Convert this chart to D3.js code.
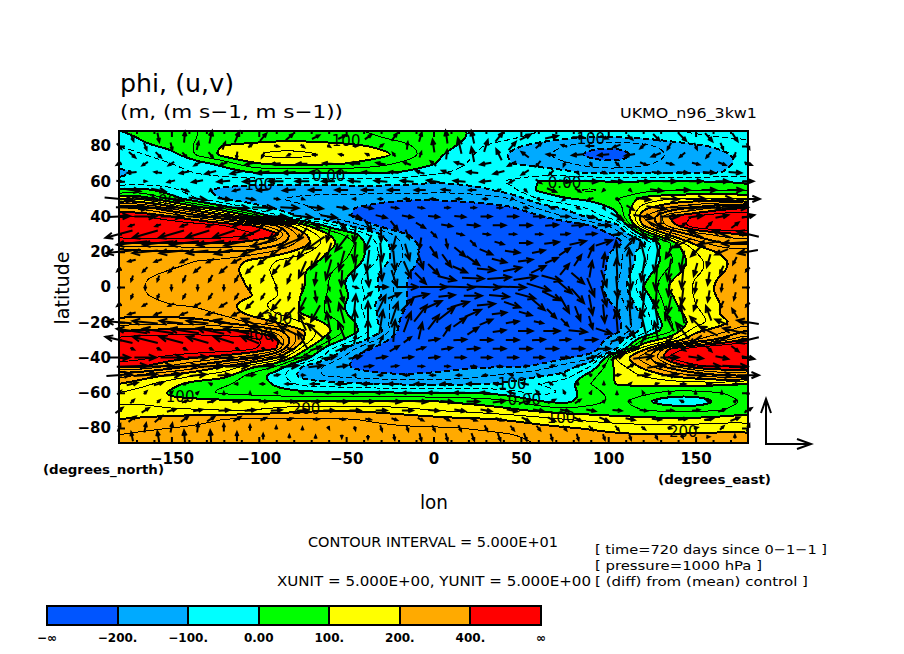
<!DOCTYPE html>
<html>
<head>
<meta charset="utf-8">
<script src="https://cdnjs.cloudflare.com/ajax/libs/d3/7.8.5/d3.min.js"></script>
<style>
html, body { margin: 0; padding: 0; background: #fff; }
svg { display: block; }
text { font-family: "DejaVu Sans", sans-serif; fill: #000; }
.axis path { display: none; }
.axis line { stroke: #000; stroke-width: 2px; }
.axis text { font-size: 15px; font-weight: bold; }
</style>
</head>
<body>
<svg id="chart" width="904" height="654"></svg>
<script>
// grid of the geopotential field
const lons = [-180,-165,-150,-135,-120,-105,-90,-75,-60,-45,-30,-15,0,15,30,45,60,75,90,105,120,135,150,165,180];
const lats = [90,85,80,75,70,65,60,55,50,45,40,35,30,25,20,15,10,5,0,-5,-10,-15,-20,-25,-30,-35,-40,-45,-50,-55,-60,-65,-70,-75,-80,-85,-90];
const phiRows = [
  [5,25,40,50,55,60,60,60,55,50,40,30,20,5,-15,-30,-40,-50,-55,-55,-50,-45,-35,-30,-25],
  [-30,15,35,50,60,70,75,75,70,60,50,40,25,8,-20,-40,-70,-90,-100,-100,-90,-75,-60,-50,-40],
  [-50,-10,15,60,105,115,130,130,120,110,90,55,30,-5,-55,-90,-120,-150,-190,-195,-170,-130,-110,-90,-70],
  [-70,-50,-20,60,120,145,170,165,145,130,115,85,15,-30,-70,-110,-140,-180,-215,-225,-190,-150,-130,-110,-85],
  [-85,-80,-50,-20,15,90,115,115,110,95,70,30,5,-40,-75,-100,-115,-140,-180,-195,-165,-130,-120,-110,-90],
  [-110,-95,-70,-45,-20,0,8,8,10,8,5,-5,-35,-60,-85,-80,-75,-85,-110,-115,-110,-105,-105,-100,-75],
  [-90,-90,-85,-80,-80,-80,-75,-75,-75,-75,-80,-85,-95,-85,-65,-40,0,10,5,-5,0,0,0,-5,-10],
  [20,15,-30,-95,-110,-125,-130,-135,-130,-125,-120,-120,-130,-130,-110,-60,10,40,60,25,40,40,45,50,50],
  [170,130,30,-50,-105,-130,-150,-160,-170,-180,-190,-195,-195,-190,-180,-150,-50,-5,10,50,120,150,160,160,150],
  [360,320,230,120,30,-60,-110,-140,-170,-200,-215,-225,-230,-225,-220,-205,-140,-90,-40,10,180,260,310,370,400],
  [460,450,400,330,240,110,-30,-110,-160,-210,-235,-245,-250,-250,-245,-240,-210,-150,-80,-10,250,400,460,500,520],
  [520,510,500,480,450,410,300,130,-30,-130,-220,-265,-280,-285,-280,-275,-270,-240,-200,-120,210,380,510,540,560],
  [500,510,510,510,490,460,420,220,100,15,-100,-200,-280,-290,-290,-290,-290,-280,-260,-180,30,220,330,370,420],
  [400,400,400,395,400,390,330,240,130,50,-70,-170,-240,-270,-290,-300,-300,-300,-280,-230,-120,40,220,300,320],
  [280,285,290,300,300,290,240,170,100,40,-60,-170,-240,-270,-280,-290,-290,-290,-270,-170,-60,50,150,210,230],
  [265,265,260,250,240,190,150,120,90,30,-60,-170,-240,-265,-280,-285,-280,-270,-250,-170,-70,30,130,190,230],
  [260,255,250,245,230,170,140,105,60,0,-100,-190,-240,-260,-270,-270,-265,-260,-240,-170,-50,60,130,190,240],
  [255,250,245,240,225,190,145,105,50,-30,-110,-200,-245,-265,-275,-275,-270,-260,-240,-160,-20,90,150,210,240],
  [250,250,245,240,230,195,150,105,50,-30,-110,-200,-250,-270,-280,-280,-270,-260,-240,-150,0,105,160,220,240],
  [250,250,245,240,225,205,155,95,45,-10,-100,-200,-245,-265,-275,-275,-270,-260,-240,-170,-30,90,155,215,240],
  [260,255,250,245,215,170,130,95,40,-30,-130,-200,-240,-260,-270,-270,-265,-260,-240,-190,-60,80,150,200,240],
  [280,280,275,265,240,185,150,95,40,-20,-110,-220,-250,-270,-280,-285,-280,-270,-250,-210,-80,70,130,210,240],
  [330,330,335,330,290,240,200,150,90,0,-120,-240,-270,-285,-290,-295,-290,-285,-270,-220,-100,40,120,180,240],
  [400,410,420,420,420,400,330,210,110,20,-90,-250,-280,-295,-300,-300,-295,-290,-270,-220,-90,30,190,230,310],
  [480,490,490,490,480,470,430,210,60,-50,-170,-270,-290,-300,-300,-300,-295,-280,-260,-130,60,130,250,320,420],
  [500,500,500,495,490,470,400,130,-40,-150,-230,-270,-290,-295,-295,-290,-280,-270,-250,-100,180,400,500,530,560],
  [480,460,430,400,370,320,210,40,-80,-210,-250,-270,-280,-275,-270,-265,-240,-210,-170,170,280,460,520,540,540],
  [430,400,340,280,200,120,50,-100,-170,-210,-240,-235,-225,-210,-205,-210,-190,-130,-50,120,220,330,440,460,470],
  [280,230,190,150,130,30,-30,-130,-160,-180,-190,-195,-190,-180,-160,-130,-110,-90,30,110,160,210,260,300,320],
  [200,160,115,70,55,40,-10,-70,-80,-90,-100,-110,-110,-110,-100,-90,-50,-20,50,105,110,120,120,110,100],
  [150,130,90,60,40,30,15,10,10,10,5,0,0,0,-5,-30,-70,-50,40,60,70,30,30,50,55],
  [145,140,110,120,115,110,110,105,105,100,105,105,105,90,80,60,5,-20,30,60,0,-40,-50,5,55],
  [170,170,160,155,150,150,170,190,195,195,185,170,150,140,125,110,90,70,70,65,50,40,40,50,80],
  [200,210,225,240,250,260,260,260,255,250,240,230,220,210,205,190,170,150,135,120,115,110,110,120,130],
  [235,245,250,255,265,275,275,270,270,265,260,255,255,250,245,240,220,205,195,180,175,175,180,185,190],
  [255,260,265,270,275,280,280,280,280,275,275,270,270,265,260,255,240,230,220,215,210,210,215,215,215],
  [265,270,270,275,280,285,285,285,285,280,280,275,275,270,265,260,250,240,235,230,225,225,225,225,225]
];

// wind in tenths of m/s, same longitudes, 85N to 85S
const vecLats = [85,80,75,70,65,60,55,50,45,40,35,30,25,20,15,10,5,0,-5,-10,-15,-20,-25,-30,-35,-40,-45,-50,-55,-60,-65,-70,-75,-80,-85];
const uRows = [
  [3,2,1,3,5,7,8,8,8,7,6,3,-2,-3,8,12,14,12,8,5,7,8,8,6,4],
  [5,3,2,2,3,4,5,4,3,5,4,1,-2,-4,4,8,6,-6,-8,-8,-6,-4,3,3,3],
  [7,6,5,5,-1,-3,-4,-5,-5,-4,-3,2,1,-3,-6,-8,-10,-12,-12,-11,-10,-6,-5,-2,0],
  [-5,-6,-6,-7,-8,-9,-10,-11,-12,-12,-10,-8,-6,-10,-12,-9,-5,-2,2,4,7,8,8,8,8],
  [-10,-8,-10,-12,-14,-14,-14,-13,-12,-11,-10,-9,-10,-12,-12,-8,-5,2,5,8,10,12,13,14,12],
  [6,2,-8,-12,-14,-15,-16,-15,-14,-13,-14,-14,-14,-13,-12,-6,6,12,15,14,14,15,15,14,12],
  [18,16,8,-2,-8,-12,-14,-14,-14,-13,-13,-12,-10,-8,-5,3,10,6,-2,2,14,15,16,17,18],
  [32,30,26,20,14,10,6,3,0,-3,-5,-6,-6,-6,-5,-2,2,-4,-6,4,16,20,22,24,26],
  [36,34,32,28,26,24,20,16,12,10,8,7,6,6,6,5,5,4,2,8,22,28,28,29,30],
  [24,24,24,22,22,24,24,22,18,14,12,12,12,12,12,12,12,10,10,14,22,20,16,14,14],
  [-6,-6,-8,-8,-8,-6,-4,10,10,8,8,10,12,14,14,14,14,14,14,14,18,6,6,8,8],
  [-30,-28,-28,-26,-24,-22,-16,-10,-4,-2,0,4,6,8,8,8,8,10,12,10,8,-10,-16,-20,-24],
  [-34,-34,-32,-30,-28,-26,-24,-20,-14,-8,-4,-2,2,6,10,14,16,18,18,12,-4,-20,-24,-28,-30],
  [-28,-28,-26,-24,-20,-18,-14,-10,-6,-2,2,5,8,12,14,16,14,12,6,-2,-6,-8,-10,-14,-22],
  [-8,-8,-8,-8,-10,-10,-10,-10,-6,-3,2,6,10,14,16,16,14,8,2,-2,-4,-4,-4,-4,-4],
  [-4,-5,-6,-7,-8,-8,-8,-8,-6,-3,2,8,12,16,20,20,16,10,3,-1,-4,-4,-4,-4,-4],
  [-2,-2,-3,-4,-4,-4,-4,-2,-1,2,6,12,20,24,26,26,22,14,6,2,-2,-2,-2,-2,-2],
  [0,0,0,0,0,0,0,0,2,6,14,24,30,32,32,30,26,16,8,2,-2,-2,-2,-1,0],
  [-2,-2,-3,-4,-4,-4,-2,2,4,8,14,18,18,20,22,22,20,14,6,2,-2,-2,-2,-2,-2],
  [-4,-5,-6,-7,-8,-8,-10,-8,-4,2,10,14,18,20,20,18,14,10,4,-1,-3,-4,-4,-4,-4],
  [-8,-8,-8,-9,-10,-12,-12,-10,-6,0,8,14,18,18,16,14,10,6,2,-2,-4,-4,-6,-6,-6],
  [-28,-28,-26,-24,-20,-18,-14,-8,-4,0,4,8,12,14,14,14,10,8,4,-2,-6,-10,-12,-14,-24],
  [-34,-34,-32,-30,-28,-26,-22,-18,-8,0,2,4,8,12,14,16,18,20,18,10,-4,-14,-20,-26,-30],
  [-30,-28,-26,-24,-22,-20,-16,-10,-2,2,4,8,12,14,14,14,14,12,14,14,6,-8,-14,-18,-24],
  [4,4,4,4,4,4,6,12,14,12,10,10,12,14,14,14,14,14,14,18,20,6,6,8,8],
  [24,24,24,22,22,22,22,20,16,14,12,12,12,12,12,12,12,10,10,14,22,20,16,14,14],
  [34,32,30,28,26,24,20,16,12,10,8,7,6,6,6,5,5,4,2,8,20,26,26,28,28],
  [28,26,22,18,14,10,6,4,0,-3,-5,-6,-6,-6,-5,-4,-2,-4,-3,6,14,18,20,22,24],
  [12,10,4,-2,-3,-5,-8,-10,-12,-12,-12,-12,-12,-12,-10,-8,-4,0,0,2,4,6,6,6,6],
  [4,3,2,1,0,0,-2,-4,-6,-8,-10,-10,-12,-12,-10,-8,-4,-2,1,0,-1,-1,0,0,0],
  [4,3,6,8,10,10,10,10,12,12,14,14,14,14,14,12,8,6,2,1,-3,-4,-4,2,3],
  [8,8,10,10,12,12,12,12,12,12,12,12,12,12,12,12,12,10,10,10,8,8,8,8,8],
  [8,8,8,8,8,6,6,6,6,6,6,6,6,8,8,8,8,8,10,10,10,10,10,10,10],
  [3,2,2,1,0,0,0,0,1,1,2,2,3,3,3,4,4,4,4,4,4,4,4,4,3],
  [-2,-2,-1,-1,0,0,0,0,0,0,1,2,2,3,3,3,2,2,2,2,2,1,1,0,-1]
];
const vRows = [
  [-8,-10,12,14,12,8,7,4,4,5,8,10,14,14,10,6,3,0,-3,-5,-7,-8,-9,-9,-8],
  [-6,-8,-8,9,8,3,-1,-3,-2,0,3,8,14,17,13,9,5,2,0,-3,-5,-7,-7,-7,-6],
  [-6,-6,-5,-6,-7,-6,-2,0,1,2,4,6,10,16,12,6,1,-1,-1,-2,-4,-5,-6,-6,-6],
  [-3,-4,-4,-4,-3,-2,-1,0,1,1,2,3,5,3,-2,-5,-6,-5,-4,-4,-3,-2,-2,-3,-3],
  [-1,1,-2,-3,-3,-2,-1,0,0,1,1,3,4,1,-3,-5,-5,-3,-2,-1,-1,-1,-1,-1,-1],
  [-1,0,-2,-2,-1,-1,0,0,0,1,1,1,2,1,-1,-3,-4,-2,-1,-1,-1,0,0,0,0],
  [-3,-3,-3,-2,-2,-1,-1,0,0,0,0,0,1,0,-2,-3,-4,-4,-2,-2,-2,0,0,0,-1],
  [-3,-3,-3,-3,-2,-2,-1,-1,0,0,0,0,0,0,0,-2,-3,-3,-2,-1,-2,-1,0,0,0],
  [-1,-1,-1,-1,-1,-1,-1,-2,-2,-2,-1,-1,0,0,0,-1,-2,-2,-3,-5,-3,-1,0,1,2],
  [1,0,0,0,0,-1,-1,-2,-3,-4,-3,-2,-1,-1,0,0,0,0,-2,-8,-4,0,2,3,3],
  [-2,-2,-3,-3,-3,-3,-3,-6,-10,-13,-10,-6,-2,-1,0,0,1,1,0,-4,-8,4,6,6,5],
  [-8,-8,-8,-8,-8,-10,-14,-14,-16,-18,-16,-10,-6,-2,-1,0,0,1,1,2,-12,-14,8,8,6],
  [-4,-4,-4,-5,-6,-8,-10,-14,-18,-18,-16,-12,-10,-6,-3,0,2,4,6,14,18,-10,-4,-2,-2],
  [-3,-3,-3,-3,-5,-7,-11,-15,-20,-22,-20,-18,-12,-10,-6,-2,3,8,14,24,24,-14,-10,-6,-4],
  [-2,-3,-4,-4,-5,-8,-12,-18,-22,-24,-22,-18,-14,-10,-4,2,6,12,16,26,-26,-22,-14,-8,-4],
  [-4,-5,-6,-6,-7,-8,-10,-18,-22,-24,-24,-18,-12,-7,-2,4,8,12,18,24,-26,-24,-14,-8,-4],
  [-6,-6,-7,-7,-7,-8,-10,-14,-18,-18,-18,-12,-5,-1,2,4,-6,-12,-18,-24,-26,-22,-14,-8,-5],
  [-5,-5,-6,-6,-6,-6,-6,-8,-6,-2,0,0,0,-1,-1,-1,-8,-14,-20,-24,-26,-20,-12,-8,-5],
  [-5,-5,-5,-6,-6,-6,-8,-12,-14,8,6,4,2,0,-2,-6,-10,-16,-22,-26,-24,-18,-12,-8,-5],
  [-3,-3,-3,-4,-5,-8,-12,-16,18,22,20,14,8,6,2,-6,-12,-18,-22,-26,-24,-20,-12,-8,-4],
  [-2,-3,-3,-3,-5,-8,-13,-18,22,26,24,18,14,8,2,-4,-10,-16,-20,26,26,22,16,10,6],
  [2,3,3,3,5,8,14,18,22,26,26,22,16,10,6,2,-2,-8,-14,24,26,20,12,6,4],
  [5,5,5,6,6,8,10,16,20,24,24,18,12,8,2,0,0,-2,-6,-12,20,18,10,6,4],
  [7,7,7,7,7,8,12,18,12,10,8,6,2,1,0,0,1,1,1,4,10,-8,-10,-8,-6],
  [-2,-2,-2,-2,-2,-2,-4,4,6,8,6,3,2,1,0,0,0,0,0,2,6,-4,-6,-6,-5],
  [0,0,0,0,0,1,1,2,3,3,2,1,1,0,0,0,0,0,2,6,3,0,-2,-3,-3],
  [1,1,1,1,1,1,2,2,2,1,1,0,0,0,0,1,2,2,3,4,3,1,0,-1,-2],
  [2,2,2,2,1,1,1,0,0,0,0,0,0,0,0,1,2,3,2,1,1,1,0,0,0],
  [3,3,2,1,0,0,0,0,0,0,0,0,0,0,0,2,3,4,3,2,1,0,0,0,0],
  [4,3,2,1,1,1,0,0,0,0,0,0,0,0,1,2,4,4,2,1,2,2,2,2,2],
  [4,3,2,2,1,0,0,0,0,0,-1,-1,-1,0,2,4,4,4,2,-1,2,2,2,2,3],
  [6,5,3,2,1,1,1,1,0,0,0,0,-1,-2,-2,-2,-2,-2,-2,-1,-1,0,1,3,5],
  [6,7,6,5,5,3,2,0,-1,-1,-2,-3,-3,-3,-3,-4,-4,-4,-4,-2,-1,1,2,4,6],
  [8,10,10,10,8,6,3,1,-2,-4,-6,-6,-6,-6,-6,-5,-5,-5,-5,-5,-3,-1,1,4,8],
  [10,12,14,14,10,6,4,2,-2,-4,-6,-8,-8,-8,-8,-8,-7,-7,-6,-6,-4,-2,0,4,8]
];

// colour bands
const fillLevels = [-200,-100,0,100,200,400];
const fillColors = ["#0055ff","#00aaff","#00ffff","#00ff00","#ffff00","#ffaa00","#ff0000"];
const barLabels = ["\u2212\u221e","\u2212200.","\u2212100.","0.00","100.","200.","400.","\u221e"];
const lineLevels = [-200,-150,-100,-50,0,50,100,150,200,250,300,350,400,450];

const xTicks = [-150,-100,-50,0,50,100,150];
const xMinor = [-170,-160,-140,-130,-120,-110,-90,-80,-70,-60,-40,-30,-20,-10,10,20,30,40,60,70,80,90,110,120,130,140,160,170];
const yTicks = [80,60,40,20,0,-20,-40,-60,-80];
const yMinor = [70,50,30,10,-10,-30,-50,-70];

// inline contour labels
const labelTexts = ["100","0.00","100","100","100","0.00","400","200","100","200","100","0.00","100","200","1"];
const labelLons  = [-50,-60,-100,-155,90,75,-100,-89,-145,-73,45,52,73,143,130];
const labelLats  = [83,63,58,49,84,59,-27,-18,-62,-69,-55,-64,-74,-82,39];

const xScale = d3.scaleLinear().domain([-180,180]).range([119,748]);
const yScale = d3.scaleLinear().domain([80,-80]).range([146,428]);
const plotTop = 131, plotBottom = 443;

const svg = d3.select("#chart");

svg.append("defs").append("clipPath").attr("id","plot-clip")
  .append("rect").attr("x",119).attr("y",plotTop).attr("width",629).attr("height",plotBottom-plotTop);

// contours work in grid index space, value i sits at i+0.5
const gridW = lons.length, gridH = lats.length;
const colScale = d3.scaleLinear().domain([0.5,gridW-0.5]).range([xScale(lons[0]),xScale(lons[gridW-1])]);
const rowScale = d3.scaleLinear().domain([0.5,gridH-0.5]).range([yScale(lats[0]),yScale(lats[gridH-1])]);
const ringLine = d3.line().curve(d3.curveBasisClosed).x(p => colScale(p[0])).y(p => rowScale(p[1]));
const contours = d3.contours().size([gridW,gridH]).smooth(true);
const flat = phiRows.flat();

function levelPath(lv) {
  const rings = contours.contour(flat,lv).coordinates.flat();
  return rings.map(r => ringLine(r.slice(0,-1))).join("");
}

const plot = svg.append("g").attr("clip-path","url(#plot-clip)").attr("shape-rendering","crispEdges");

plot.append("rect").attr("x",119).attr("y",plotTop).attr("width",629).attr("height",plotBottom-plotTop)
  .attr("fill",fillColors[0]);

plot.selectAll("path.band")
  .data(fillLevels)
  .enter()
  .append("path")
  .attr("class","band")
  .attr("d",levelPath)
  .attr("fill",(lv,i) => fillColors[i+1]);

plot.selectAll("path.cline")
  .data(lineLevels)
  .enter()
  .append("path")
  .attr("class","cline")
  .attr("d",levelPath)
  .attr("fill","none")
  .attr("stroke","#000")
  .attr("stroke-width",lv => lv % 100 === 0 ? 2 : 1)
  .attr("stroke-dasharray",lv => lv < 0 ? "6,3" : null);

// wind arrows, 5 m/s = 45 px as in the key
const vecScale = d3.scaleLinear().domain([0,50]).range([0,45]);
const arrows = [];
vecLats.forEach((la,r) => {
  // every other row sits half a column east, as the arrows in the picture do not line up
  const shift = r % 2 === 0 ? 7.5 : 0;
  lons.forEach((lo,c) => {
    if (lo+shift <= 180) arrows.push({lo:lo+shift,la,u:uRows[r][c],v:vRows[r][c]});
  });
});

function arrowPath(d) {
  const cx = xScale(d.lo), cy = yScale(d.la);
  const dx = vecScale(d.u), dy = -vecScale(d.v);
  const len = Math.hypot(dx,dy);
  if (len < 0.5) return "";
  const ang = Math.atan2(dy,dx);
  const tipX = cx+dx/2, tipY = cy+dy/2;
  const hl = Math.min(8,Math.max(3,len*0.45));
  const a1 = ang+Math.PI-0.4, a2 = ang+Math.PI+0.4;
  return `M${cx-dx/2},${cy-dy/2}L${tipX},${tipY}`
    + `M${tipX+hl*Math.cos(a1)},${tipY+hl*Math.sin(a1)}L${tipX},${tipY}L${tipX+hl*Math.cos(a2)},${tipY+hl*Math.sin(a2)}`;
}

svg.append("g")
  .selectAll("path")
  .data(arrows)
  .enter()
  .append("path")
  .attr("d",arrowPath)
  .attr("fill","none")
  .attr("stroke","#000")
  .attr("stroke-width",2);

// contour labels
svg.append("g")
  .selectAll("text")
  .data(labelTexts)
  .enter()
  .append("text")
  .attr("x",(t,i) => xScale(labelLons[i]))
  .attr("y",(t,i) => yScale(labelLats[i]))
  .attr("dy","0.35em")
  .attr("text-anchor","middle")
  .attr("font-size",15)
  .text(t => t);

// frame and axes
const fmtTick = t => String(t).replace("-","\u2212");

svg.append("rect").attr("x",119).attr("y",plotTop).attr("width",629).attr("height",plotBottom-plotTop)
  .attr("fill","none").attr("stroke","#000").attr("stroke-width",2).attr("shape-rendering","crispEdges");

svg.append("g").attr("class","axis").attr("transform",`translate(0,${plotBottom})`)
  .call(d3.axisBottom(xScale).tickValues(xTicks).tickSize(-6).tickPadding(10).tickFormat(fmtTick));
svg.append("g").attr("class","axis").attr("transform",`translate(0,${plotBottom})`)
  .call(d3.axisBottom(xScale).tickValues(xMinor).tickSize(-3).tickFormat(""));
svg.append("g").attr("class","axis").attr("transform",`translate(0,${plotTop})`)
  .call(d3.axisTop(xScale).tickValues(xTicks).tickSize(-6).tickFormat(""));
svg.append("g").attr("class","axis").attr("transform",`translate(0,${plotTop})`)
  .call(d3.axisTop(xScale).tickValues(xMinor).tickSize(-3).tickFormat(""));
svg.append("g").attr("class","axis").attr("transform","translate(119,0)")
  .call(d3.axisLeft(yScale).tickValues(yTicks).tickSize(-6).tickPadding(8).tickFormat(fmtTick));
svg.append("g").attr("class","axis").attr("transform","translate(119,0)")
  .call(d3.axisLeft(yScale).tickValues(yMinor).tickSize(-3).tickFormat(""));
svg.append("g").attr("class","axis").attr("transform","translate(748,0)")
  .call(d3.axisRight(yScale).tickValues(yTicks).tickSize(-6).tickFormat(""));
svg.append("g").attr("class","axis").attr("transform","translate(748,0)")
  .call(d3.axisRight(yScale).tickValues(yMinor).tickSize(-3).tickFormat(""));

// page text: string, left x, baseline y, size, width, weight
const pageText = [
  ["phi, (u,v)",120,92,24,114,"normal"],
  ["(m, (m s\u22121, m s\u22121))",120,118,18,223,"normal"],
  ["UKMO_n96_3kw1",620,118,14,137,"normal"],
  ["(degrees_north)",43,474,13,121,"bold"],
  ["(degrees_east)",658,484,13,113,"bold"],
  ["lon",420,509,19,28,"normal"],
  ["CONTOUR INTERVAL = 5.000E+01",308,547,14,250,"normal"],
  ["XUNIT = 5.000E+00, YUNIT = 5.000E+00",277,586,14,314,"normal"],
  ["[ time=720 days since 0\u22121\u22121 ]",595,554,13,232,"normal"],
  ["[ pressure=1000 hPa ]",595,570,13,167,"normal"],
  ["[ (diff) from (mean) control ]",595,586,13,213,"normal"]
];
svg.append("g").selectAll("text")
  .data(pageText)
  .enter()
  .append("text")
  .attr("x",d => d[1])
  .attr("y",d => d[2])
  .attr("font-size",d => d[3])
  .attr("textLength",d => d[4])
  .attr("lengthAdjust","spacingAndGlyphs")
  .attr("font-weight",d => d[5])
  .text(d => d[0]);

svg.append("text")
  .attr("transform","translate(69,288) rotate(-90)")
  .attr("text-anchor","middle")
  .attr("font-size",19)
  .text("latitude");

// key arrows: one 5 m/s each way from the corner
const keyLen = vecScale(50);
const keyX = 766, keyY = 444;
svg.append("path")
  .attr("d",`M${keyX},${keyY-keyLen}V${keyY}H${keyX+keyLen}`
    + `M${keyX+keyLen-14},${keyY-5}L${keyX+keyLen},${keyY}L${keyX+keyLen-14},${keyY+5}`
    + `M${keyX-5},${keyY-keyLen+14}L${keyX},${keyY-keyLen}L${keyX+5},${keyY-keyLen+14}`)
  .attr("fill","none").attr("stroke","#000").attr("stroke-width",2);

// colour bar
const barScale = d3.scaleLinear().domain([0,7]).range([47,541]);
const bar = svg.append("g").attr("shape-rendering","crispEdges");
bar.selectAll("rect")
  .data(fillColors)
  .enter()
  .append("rect")
  .attr("x",(c,i) => barScale(i))
  .attr("y",606)
  .attr("width",barScale(1)-barScale(0))
  .attr("height",19)
  .attr("fill",c => c)
  .attr("stroke","#000")
  .attr("stroke-width",2);
svg.append("g").selectAll("text")
  .data(barLabels)
  .enter()
  .append("text")
  .attr("x",(t,i) => barScale(i))
  .attr("y",642)
  .attr("text-anchor","middle")
  .attr("font-size",12)
  .attr("font-weight","bold")
  .text(t => t);
</script>
</body>
</html>
